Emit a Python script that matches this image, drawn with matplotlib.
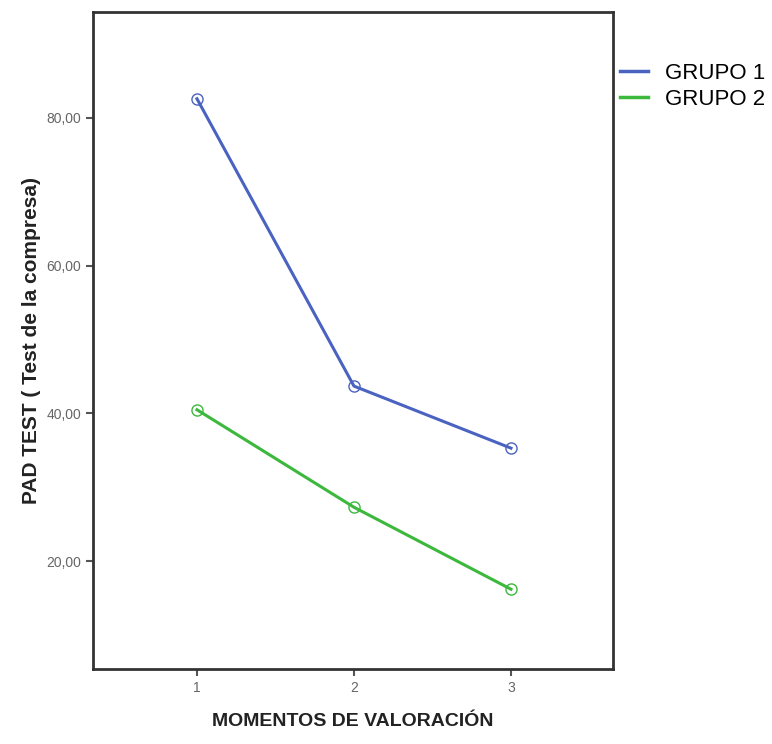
import matplotlib
matplotlib.use("Agg")
import matplotlib.pyplot as plt
from matplotlib.lines import Line2D

# Assessment moments and mean PAD test scores per group
moments = [1, 2, 3]
grupo1 = [82.6, 43.7, 35.3]
grupo2 = [40.5, 27.3, 16.2]
series_names = ["GRUPO 1", "GRUPO 2"]
ytick_vals = [20, 40, 60, 80]

blue = "#4a63c0"
green = "#3cb83c"
font = ["Liberation Sans", "DejaVu Sans"]

fig = plt.figure(figsize=(7.72, 7.44), dpi=100)
ax = fig.add_axes([0.1205, 0.1008, 0.6736, 0.8831])

for vals, col in ((grupo1, blue), (grupo2, green)):
    ax.plot(moments, vals, color=col, lw=2.2, marker="o", ms=8,
            markerfacecolor="none", markeredgecolor=col, markeredgewidth=1.0)

ax.set_xlim(0.338, 3.65)
ax.set_ylim(5.4, 94.35)
ax.set_xticks(moments)
ax.set_xticklabels([str(m) for m in moments], family=font)
ax.set_yticks(ytick_vals)
ax.set_yticklabels([f"{v:.2f}".replace(".", ",") for v in ytick_vals], family=font)

for s in ax.spines.values():
    s.set_linewidth(2.0)
    s.set_color("#333333")
ax.tick_params(axis="both", direction="out", length=5, width=1.5,
               colors="#555555", labelsize=10, labelcolor="#666666")

ax.set_ylabel("PAD TEST ( Test de la compresa)", fontsize=15, fontweight="bold",
              color="#222222", labelpad=4, family=font)
ax.set_xlabel("MOMENTOS DE VALORACIÓN", fontsize=14, fontweight="bold",
              color="#222222", labelpad=13, family=font)

handles = [Line2D([], [], color=blue, lw=2.5), Line2D([], [], color=green, lw=2.5)]
fig.legend(handles, series_names, loc="upper left", bbox_to_anchor=(0.797, 0.921),
           frameon=False, handlelength=1.25, handletextpad=0.8, labelspacing=0.2,
           borderaxespad=0, borderpad=0.2,
           prop={"family": font, "size": 16})

fig.savefig("out.png", dpi=100, facecolor="white")
